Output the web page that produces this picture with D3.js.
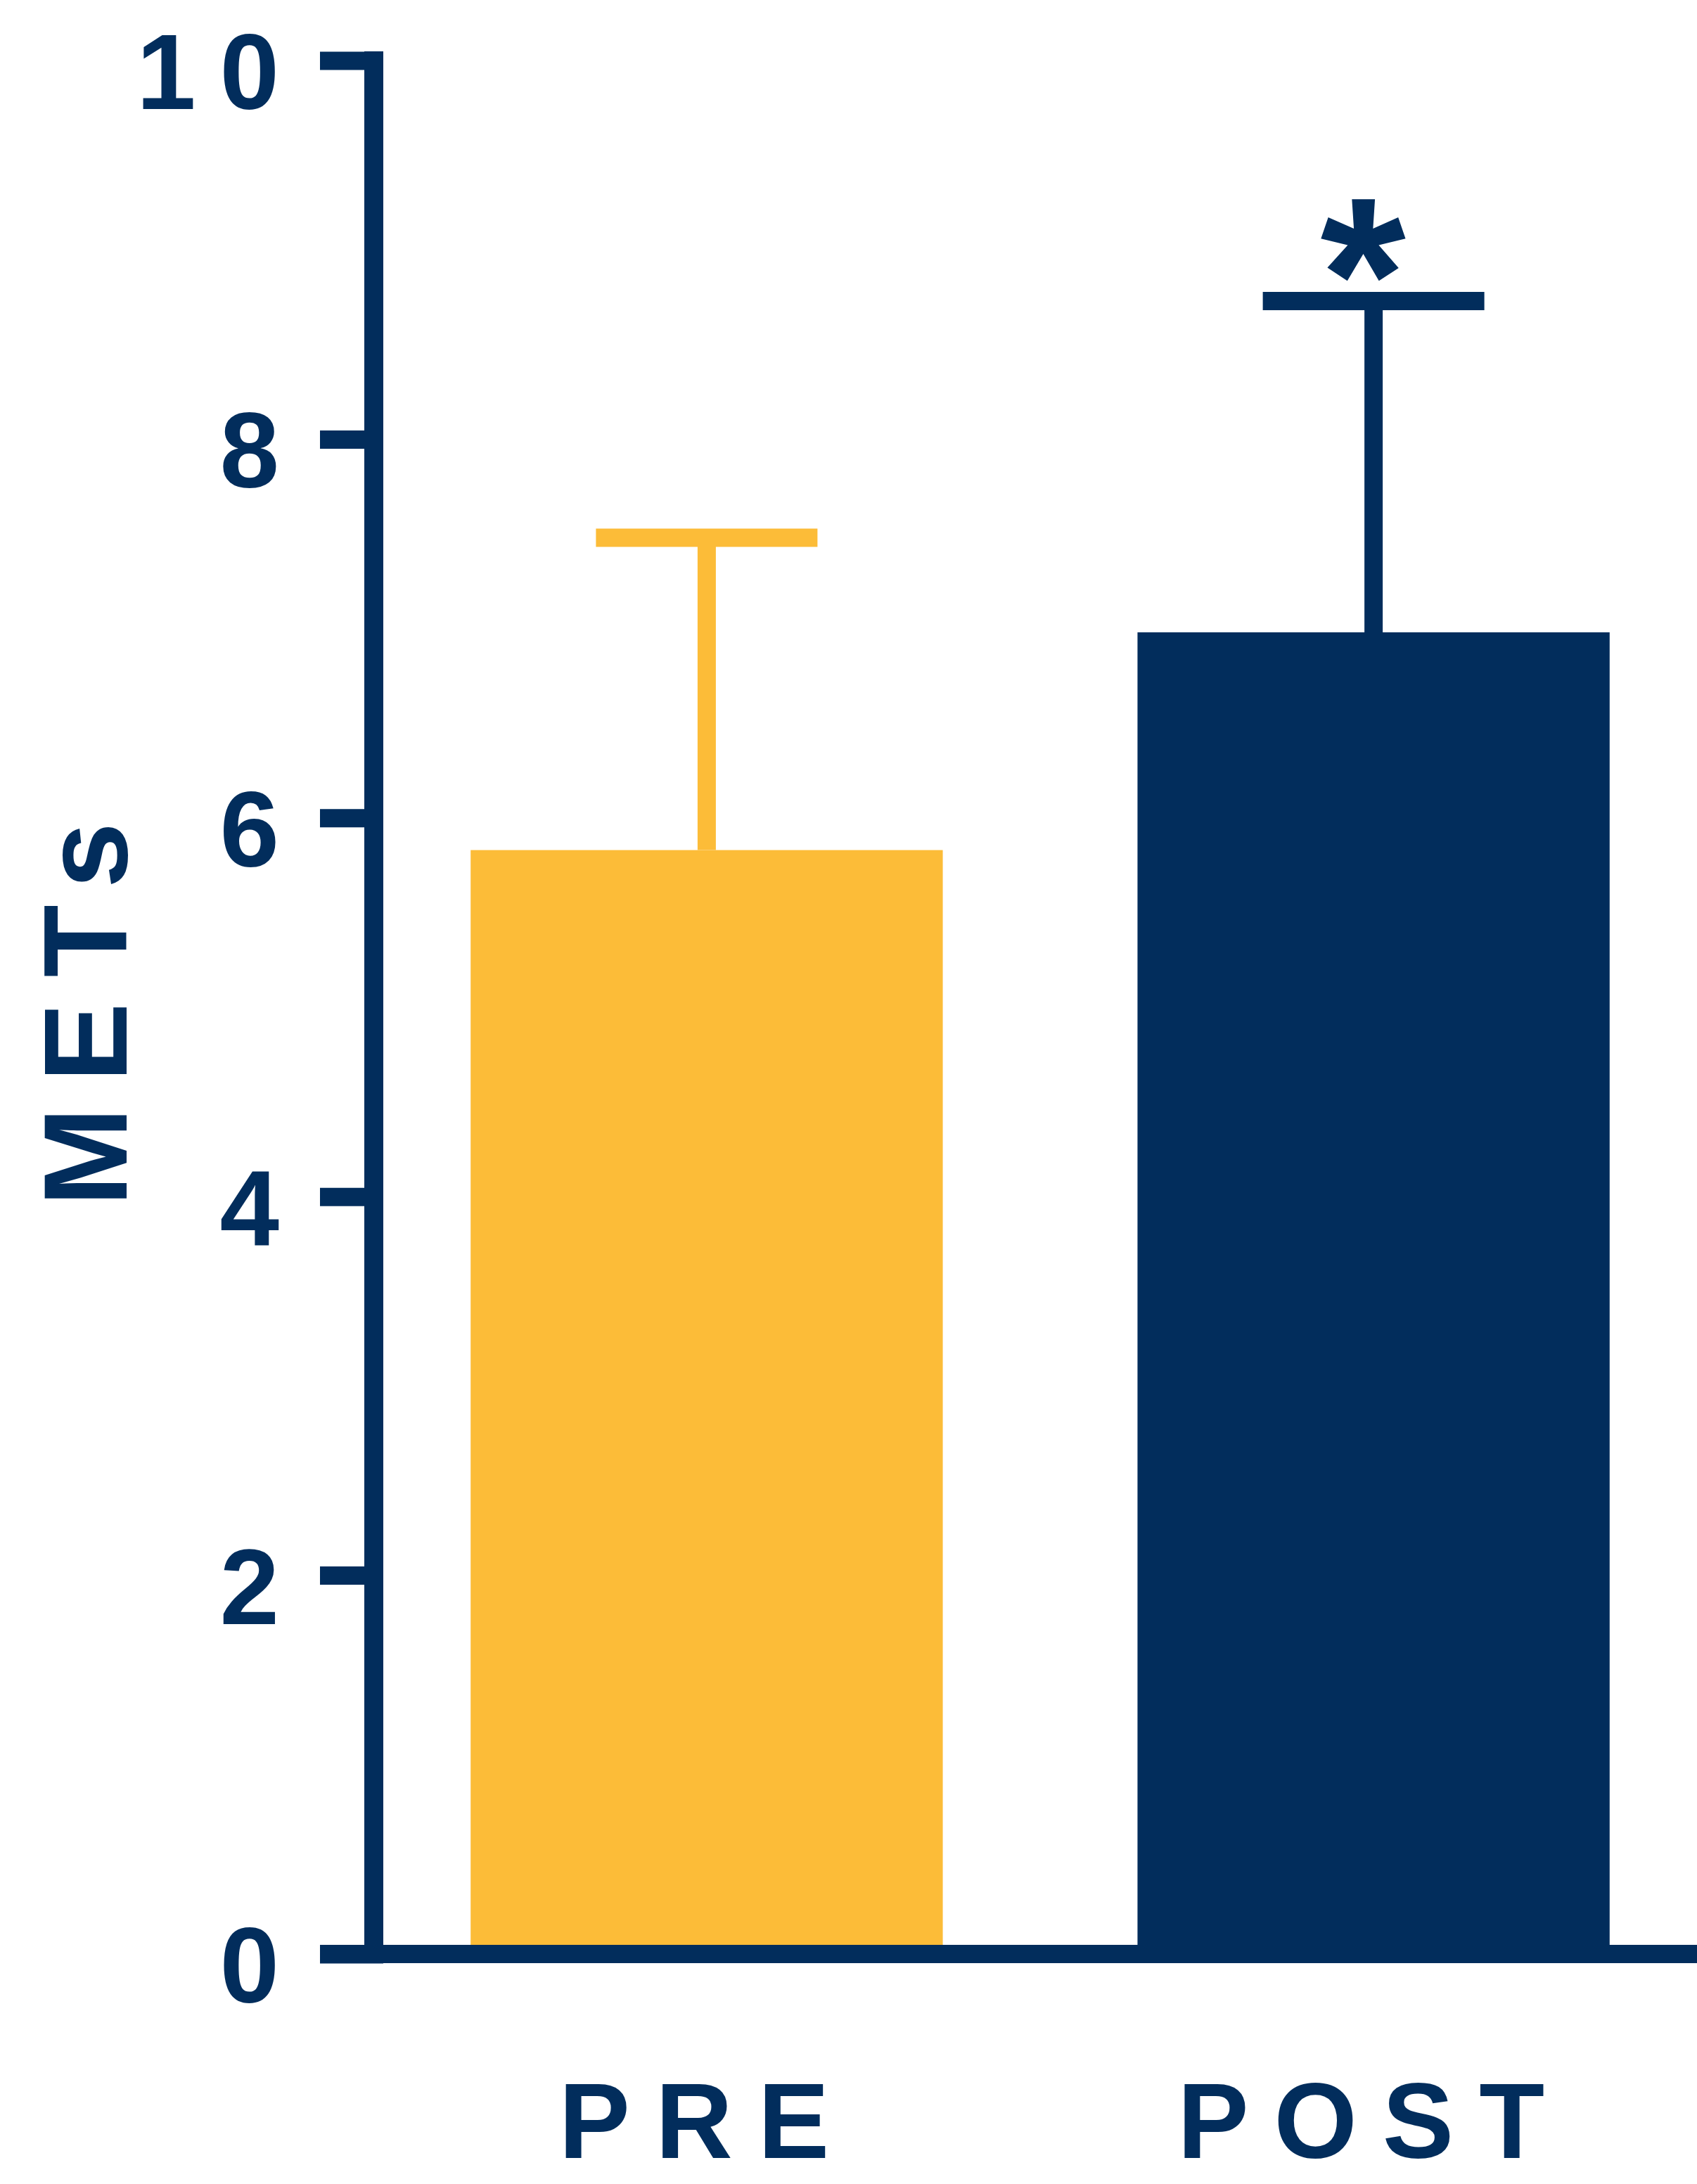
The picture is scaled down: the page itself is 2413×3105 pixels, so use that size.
<!DOCTYPE html>
<html>
<head>
<meta charset="utf-8">
<script src="https://cdn.jsdelivr.net/npm/d3@7"></script>
<style>
  html, body { margin: 0; padding: 0; background: #ffffff; }
  svg { display: block; }
</style>
</head>
<body>
<svg id="chart"></svg>
<script>
// Exercise capacity before and after the programme
const categories = ["PRE", "POST"];
const meanMETs = [5.83, 6.98];
const errorMETs = [1.65, 1.75];
const significant = [false, true];
const yTicks = [0, 2, 4, 6, 8, 10];
const yTickLabels = ["0", "2", "4", "6", "8", "10"];
const yTitle = "METs";

const W = 2413, H = 3105;
const FONT = '"Liberation Sans", Arial, Helvetica, sans-serif';
const navy = "#022d5c";
const gold = "#fcbc38";
const barColors = [gold, navy];
const lw = 26;

const svg = d3.select("#chart").attr("width", W).attr("height", H);

function boldText(sel, size, spacing) {
  return sel.style("font-family", FONT)
    .style("font-weight", "bold")
    .style("font-size", size + "px")
    .style("letter-spacing", spacing + "px")
    .attr("fill", navy);
}

const y = d3.scaleLinear().domain([0, 10]).range([2778, 86]);
const x = d3.scaleBand().domain(categories).range([545, 2413])
  .paddingInner(0.292).paddingOuter(0.131);

const rows = categories.map((c, i) => ({
  cat: c, mean: meanMETs[i], err: errorMETs[i], sig: significant[i], color: barColors[i]
}));
const cx = d => x(d.cat) + x.bandwidth() / 2;

// bars
svg.append("g").selectAll("rect").data(rows).join("rect")
  .attr("x", d => x(d.cat))
  .attr("width", x.bandwidth())
  .attr("y", d => y(d.mean))
  .attr("height", d => y(0) - y(d.mean))
  .attr("fill", d => d.color);

// error bars (upper only)
const capW = 315;
const eb = svg.append("g");
eb.selectAll("line.stem").data(rows).join("line")
  .attr("class", "stem")
  .attr("x1", cx).attr("x2", cx)
  .attr("y1", d => y(d.mean))
  .attr("y2", d => y(d.mean + d.err))
  .attr("stroke", d => d.color).attr("stroke-width", lw);
eb.selectAll("line.cap").data(rows).join("line")
  .attr("class", "cap")
  .attr("x1", d => cx(d) - capW / 2)
  .attr("x2", d => cx(d) + capW / 2)
  .attr("y1", d => y(d.mean + d.err))
  .attr("y2", d => y(d.mean + d.err))
  .attr("stroke", d => d.color).attr("stroke-width", lw);

// significance marker
const starSize = 312;
svg.append("g").selectAll("text").data(rows.filter(d => d.sig)).join("text")
  .attr("x", d => cx(d) - 15)
  .attr("y", d => y(d.mean + d.err) + 70)
  .attr("text-anchor", "middle")
  .call(boldText, starSize, 0)
  .text("*");

// y axis: tick marks from d3.axisLeft, labels drawn separately
const yAxis = d3.axisLeft(y).tickValues(yTicks).tickSize(90).tickFormat("");
const gy = svg.append("g").attr("transform", "translate(545,0)").call(yAxis);
gy.attr("font-family", null).attr("font-size", null);
gy.select(".domain").remove();
gy.selectAll(".tick text").remove();
gy.selectAll(".tick line").attr("stroke", navy).attr("stroke-width", lw);

svg.append("g").selectAll("text").data(yTicks).join("text")
  .attr("x", 431)
  .attr("y", d => y(d) + 69)
  .attr("text-anchor", "end")
  .call(boldText, 152, 34)
  .text((d, i) => yTickLabels[i]);

svg.append("line")
  .attr("x1", 531.5).attr("x2", 531.5)
  .attr("y1", 73).attr("y2", y(0) + lw / 2)
  .attr("stroke", navy).attr("stroke-width", 27);

// x axis baseline
svg.append("line")
  .attr("x1", 455).attr("x2", W)
  .attr("y1", y(0)).attr("y2", y(0))
  .attr("stroke", navy).attr("stroke-width", lw);

// category labels
svg.append("g").selectAll("text").data(categories).join("text")
  .attr("x", d => x(d) + x.bandwidth() / 2)
  .attr("y", 3068)
  .attr("text-anchor", "middle")
  .call(boldText, 152, 36)
  .text(d => d);

// y axis title
svg.append("text")
  .attr("transform", "translate(180,1424) rotate(-90)")
  .attr("text-anchor", "middle")
  .call(boldText, 169, 36)
  .text(yTitle);
</script>
</body>
</html>
